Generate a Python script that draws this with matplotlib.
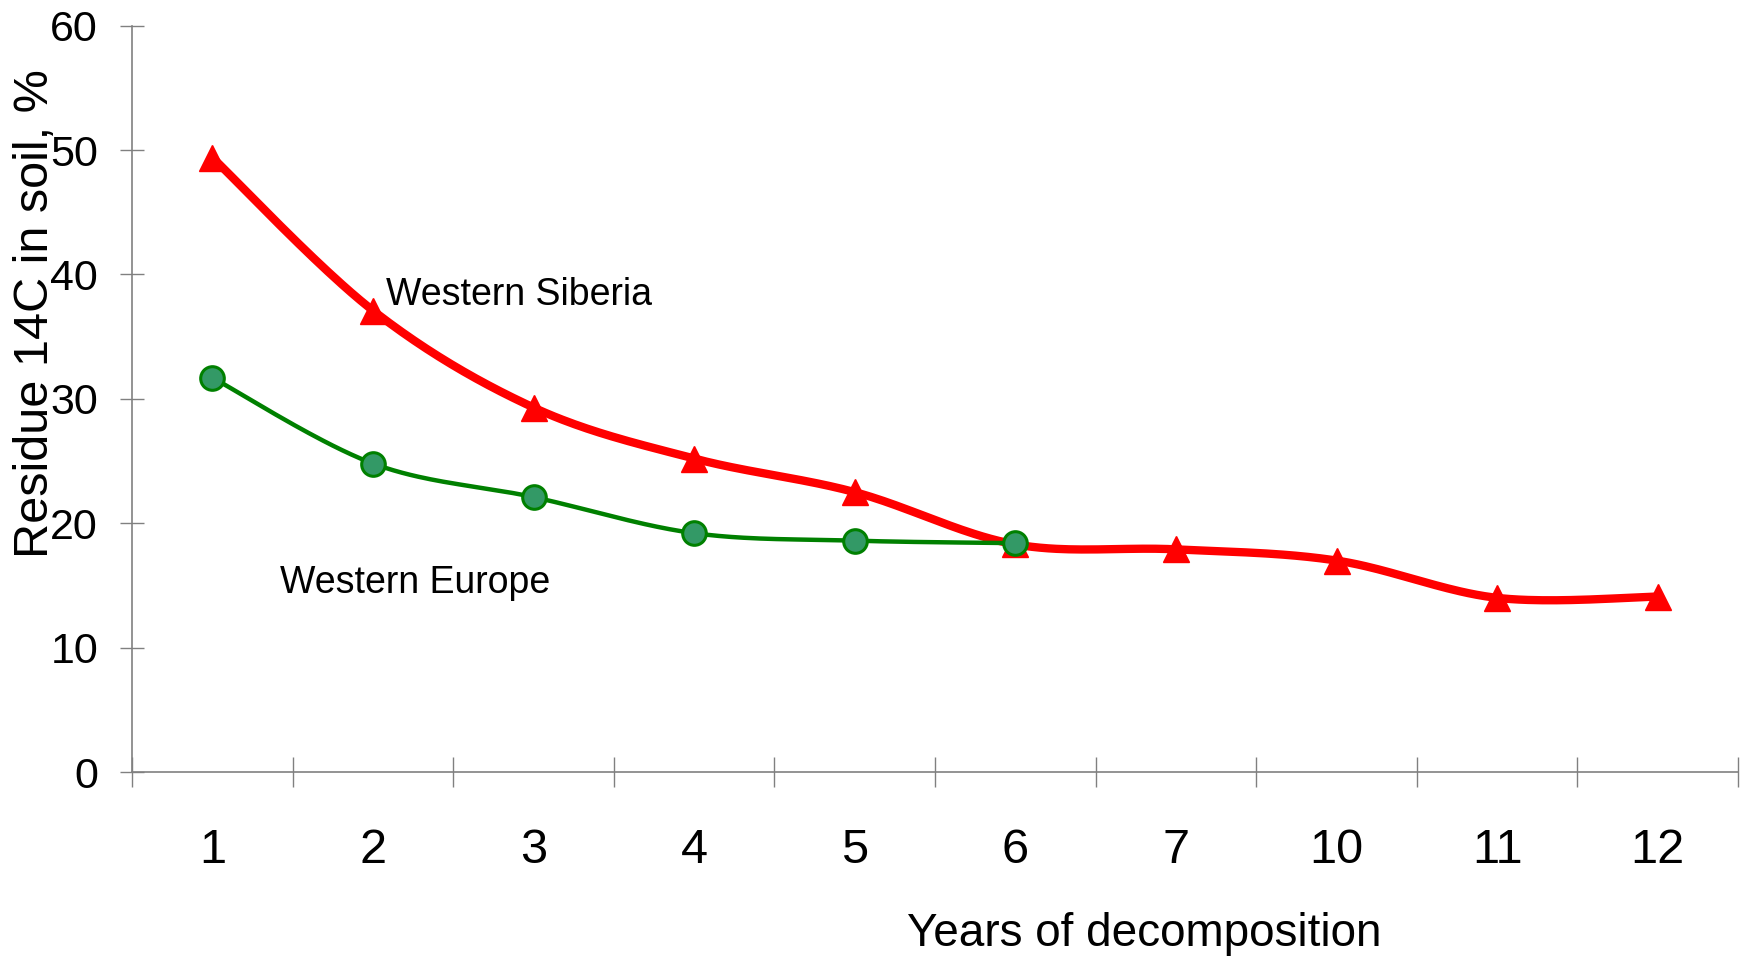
import numpy as np
import matplotlib
matplotlib.use("Agg")
import matplotlib.pyplot as plt

plt.rcParams['font.family'] = ['Liberation Sans', 'DejaVu Sans']

# data
years = ["1", "2", "3", "4", "5", "6", "7", "10", "11", "12"]
siberia = [49.4, 37.1, 29.3, 25.2, 22.5, 18.3, 17.9, 17.0, 14.0, 14.1]
europe = [31.7, 24.8, 22.1, 19.2, 18.6, 18.4]


def smooth(x, y, n=40):
    """Excel-like smoothed line through the points (cubic Bezier, 1/6 tension)."""
    pts = np.column_stack([x, y]).astype(float)
    ext = np.vstack([pts[:1], pts, pts[-1:]])
    out = []
    t = np.linspace(0, 1, n)[:, None]
    for i in range(len(pts) - 1):
        p0, p1, p2, p3 = ext[i], ext[i + 1], ext[i + 2], ext[i + 3]
        c1 = p1 + (p2 - p0) / 6
        c2 = p2 - (p3 - p1) / 6
        seg = ((1 - t) ** 3) * p1 + 3 * ((1 - t) ** 2) * t * c1 + 3 * (1 - t) * t ** 2 * c2 + t ** 3 * p2
        out.append(seg if i == 0 else seg[1:])
    seg = np.vstack(out)
    return seg[:, 0], seg[:, 1]


fig = plt.figure(figsize=(17.54, 9.69), dpi=100)
ax = fig.add_axes([0.0753, 0.2033, 0.9156, 0.7702])

xs = np.arange(len(siberia))
xe = np.arange(len(europe))

sx, sy = smooth(xs, siberia)
ax.plot(sx, sy, color='#ff0000', lw=6, solid_capstyle='round', zorder=2)
ax.plot(xs, siberia, ls='none', marker='^', ms=19, color='#ff0000', zorder=3)

ex, ey = smooth(xe, europe)
ax.plot(ex, ey, color='#008000', lw=3.2, zorder=4)
ax.plot(xe, europe, ls='none', marker='o', ms=17, markerfacecolor='#339966',
        markeredgecolor='#008000', markeredgewidth=2.2, zorder=5)

ax.text(1.08, 38.35, "Western Siberia", fontsize=27, va='center', ha='left')
ax.text(0.42, 15.2, "Western Europe", fontsize=27, va='center', ha='left')

ax.set_xlim(-0.5, len(years) - 0.5)
ax.set_ylim(0, 60)
ax.set_yticks(range(0, 61, 10))
ax.set_xticks(xs)
ax.set_xticklabels(years)
ax.set_xticks(np.arange(-0.5, len(years)), minor=True)

ax.tick_params(axis='x', which='major', length=0, pad=40, labelsize=35)
ax.tick_params(axis='x', which='minor', direction='inout', length=22, width=1, color='#808080')
ax.tick_params(axis='y', direction='inout', length=17, width=1, color='#808080', pad=16, labelsize=31)

for s in ['top', 'right']:
    ax.spines[s].set_visible(False)
for s in ['left', 'bottom']:
    ax.spines[s].set_color('#808080')
    ax.spines[s].set_linewidth(1.2)

ax.set_xlabel("Years of decomposition", fontsize=33)
ax.xaxis.set_label_coords(0.63, -0.188)
ax.set_ylabel("Residue 14C in soil, %", fontsize=35, va='center')
ax.yaxis.set_label_coords(-0.06, 0.614)

fig.savefig("out.png", dpi=100)
